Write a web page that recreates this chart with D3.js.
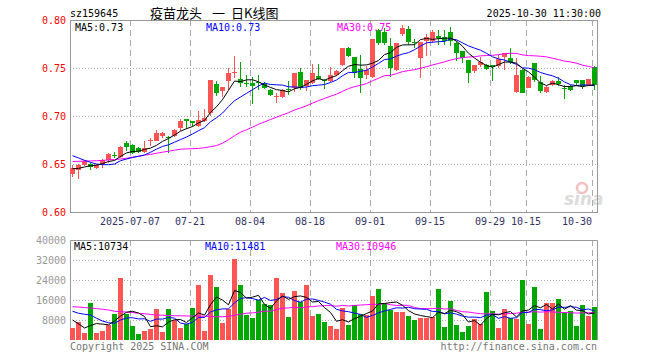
<!DOCTYPE html>
<html>
<head>
<meta charset="utf-8">
<script src="https://cdn.jsdelivr.net/npm/d3@7/dist/d3.min.js"></script>
<style>
  body { margin: 0; background: #fff; }
  text { font-family: "DejaVu Sans Mono", monospace; font-size: 10px; }
</style>
</head>
<body>
<div id="chart"></div>
<script>
// trading days shown on the chart
const dates = [
  "2025-06-23","2025-06-24","2025-06-25","2025-06-26","2025-06-27","2025-06-30",
  "2025-07-01","2025-07-02","2025-07-03","2025-07-04","2025-07-07","2025-07-08","2025-07-09","2025-07-10","2025-07-11",
  "2025-07-14","2025-07-15","2025-07-16","2025-07-17","2025-07-18","2025-07-21","2025-07-22","2025-07-23","2025-07-24",
  "2025-07-25","2025-07-28","2025-07-29","2025-07-30","2025-07-31",
  "2025-08-01","2025-08-04","2025-08-05","2025-08-06","2025-08-07","2025-08-08","2025-08-11","2025-08-12","2025-08-13",
  "2025-08-14","2025-08-15","2025-08-18","2025-08-19","2025-08-20","2025-08-21","2025-08-22","2025-08-25","2025-08-26",
  "2025-08-27","2025-08-28","2025-08-29",
  "2025-09-01","2025-09-02","2025-09-03","2025-09-04","2025-09-05","2025-09-08","2025-09-09","2025-09-10","2025-09-11",
  "2025-09-12","2025-09-15","2025-09-16","2025-09-17","2025-09-18","2025-09-19","2025-09-22","2025-09-23","2025-09-24",
  "2025-09-25","2025-09-26","2025-09-29","2025-09-30",
  "2025-10-09","2025-10-10","2025-10-13","2025-10-14","2025-10-15","2025-10-16","2025-10-17","2025-10-20","2025-10-21",
  "2025-10-22","2025-10-23","2025-10-24","2025-10-27","2025-10-28","2025-10-29","2025-10-30"
];

const opens = [
  0.640,0.644,0.649,0.650,0.646,0.650,0.654,0.659,0.657,0.672,
  0.670,0.667,0.662,0.674,0.674,0.679,0.678,0.679,0.688,0.697,
  0.695,0.690,0.695,0.703,0.733,0.726,0.736,0.745,0.739,0.734,
  0.734,0.735,0.734,0.727,0.720,0.720,0.728,0.729,0.746,0.731,
  0.734,0.742,0.737,0.736,0.743,0.753,0.771,0.761,0.749,0.743,
  0.741,0.790,0.787,0.773,0.748,0.785,0.791,0.777,0.760,0.778,
  0.778,0.783,0.782,0.788,0.776,0.768,0.758,0.747,0.753,0.753,
  0.753,0.752,0.761,0.760,0.725,0.748,0.729,0.755,0.735,0.725,
  0.732,0.736,0.729,0.731,0.737,0.737,0.732,0.751
];
const highs = [
  0.649,0.650,0.654,0.651,0.650,0.655,0.661,0.662,0.669,0.674,
  0.671,0.668,0.674,0.677,0.685,0.683,0.679,0.686,0.697,0.697,
  0.695,0.705,0.707,0.737,0.736,0.730,0.750,0.762,0.756,0.743,
  0.741,0.743,0.735,0.728,0.724,0.728,0.736,0.745,0.750,0.738,
  0.754,0.754,0.739,0.751,0.748,0.771,0.772,0.761,0.764,0.752,
  0.780,0.791,0.792,0.781,0.776,0.795,0.794,0.780,0.777,0.785,
  0.790,0.790,0.790,0.793,0.778,0.768,0.758,0.753,0.761,0.754,
  0.753,0.764,0.766,0.771,0.760,0.749,0.742,0.755,0.742,0.731,
  0.737,0.741,0.732,0.732,0.738,0.737,0.739,0.752
];
const lows = [
  0.636,0.634,0.648,0.644,0.645,0.646,0.651,0.656,0.656,0.664,
  0.660,0.661,0.661,0.669,0.674,0.677,0.661,0.678,0.684,0.686,
  0.689,0.689,0.694,0.700,0.721,0.720,0.727,0.740,0.730,0.730,
  0.712,0.727,0.728,0.721,0.714,0.719,0.722,0.725,0.727,0.726,
  0.733,0.737,0.728,0.735,0.742,0.752,0.761,0.740,0.724,0.739,
  0.740,0.774,0.774,0.741,0.747,0.783,0.774,0.771,0.740,0.762,
  0.776,0.774,0.774,0.773,0.757,0.755,0.734,0.745,0.751,0.748,
  0.736,0.750,0.748,0.754,0.724,0.724,0.729,0.735,0.724,0.724,
  0.731,0.731,0.718,0.726,0.732,0.728,0.731,0.727
];
const closes = [
  0.646,0.649,0.653,0.647,0.649,0.654,0.660,0.658,0.668,0.668,
  0.661,0.662,0.667,0.675,0.682,0.682,0.677,0.685,0.695,0.695,
  0.693,0.696,0.698,0.737,0.724,0.730,0.745,0.746,0.734,0.733,
  0.731,0.734,0.729,0.722,0.721,0.727,0.727,0.745,0.729,0.737,
  0.745,0.739,0.736,0.743,0.747,0.771,0.762,0.745,0.740,0.748,
  0.780,0.776,0.776,0.750,0.776,0.792,0.777,0.776,0.777,0.782,
  0.787,0.781,0.778,0.778,0.766,0.760,0.745,0.753,0.756,0.749,
  0.751,0.759,0.766,0.756,0.743,0.724,0.741,0.738,0.726,0.730,
  0.736,0.733,0.728,0.727,0.734,0.731,0.739,0.732
];
const volumes = [
  4900,7300,2900,14900,2900,3700,6000,10400,24900,10400,
  5700,2500,3600,4400,12400,3300,12400,8000,4900,6300,
  12900,22000,3700,26000,21300,6900,12400,32400,22000,10000,
  8900,16000,14300,14000,24900,18900,9300,19700,15300,22000,
  9700,10400,7300,5700,4400,12700,6000,14000,10300,10000,
  17700,20400,14700,12000,11100,11300,9700,8000,8900,8900,
  9300,20400,5300,15600,6000,3300,5700,8400,6300,19300,
  11600,4900,12400,8700,8400,24000,6400,21300,4400,14900,
  14900,16400,11100,11600,5700,14000,9700,13200
];

// moving averages on the first days, where the history behind them is off the chart
const ma5Lead = [0.6451,0.6454,0.6469,0.6482];
const ma10Lead = [0.6587,0.6563,0.6538,0.6517,0.6500,0.6493,0.6493,0.6500,0.6534];
const ma30Lead = [
  0.6526,0.6528,0.6530,0.6532,0.6534,0.6538,0.6542,0.6547,0.6552,0.6560,
  0.6571,0.6581,0.6592,0.6600,0.6612,0.6623,0.6633,0.6644,0.6654,0.6657,
  0.6659,0.6662,0.6670,0.6680,0.6691,0.6717,0.6753,0.6795,0.6831
];
const volMa5Lead = [8000,6500,4800,5800];
const volMa10Lead = [11500,10700,10300,10000,8700,7600,6900,6700,8000];
const volMa30Lead = [
  13300,13200,13000,12800,12600,12300,12000,11500,11300,11200,
  11000,10700,10500,10200,10000,9900,9800,9700,9700,9600,
  9600,9600,9500,9400,9300,9300,9500,9900,10300
];

const priceTicks = [0.80, 0.75, 0.70, 0.65, 0.60];
const volTicks = [40000, 32000, 24000, 16000, 8000];
const dateTicks = ["2025-07-07","2025-07-21","2025-08-04","2025-08-18","2025-09-01","2025-09-15","2025-09-29","2025-10-15","2025-10-30"];
const dateTickLabels = ["2025-07-07","07-21","08-04","08-18","09-01","09-15","09-29","10-15","10-30"];
const priceLegend = ["MA5:0.73", "MA10:0.73", "MA30:0.75"];
const volLegend = ["MA5:10734", "MA10:11481", "MA30:10946"];
const titleParts = ["疫苗龙头", "一", "日K线图"];

const width = 660, height = 360;
const left = 70, right = 597;
const RED = "#ff5454", GREEN = "#00a800", GRID = "#aaa";
const maColors = ["#000000", "#0000ff", "#ff00ff"];

const svg = d3.select("#chart").append("svg")
    .attr("width", width)
    .attr("height", height);

const x = d3.scaleBand()
    .domain(dates)
    .range([left, left + dates.length * 6]);
const y = d3.scaleLinear().domain([0.60, 0.80]).range([212, 20]);
const yv = d3.scaleLinear().domain([0, 40000]).range([340, 240]);

function movingAvg(values, n, lead) {
    return values.map((v, i) => i < n - 1 ? lead[i] : d3.mean(values.slice(i - n + 1, i + 1)));
}
const isUp = i => closes[i] >= opens[i];

// header
svg.append("text").attr("x", 70).attr("y", 17).attr("fill", "#000").text("sz159645");
const titleX = [150, 212, 231];
titleParts.forEach((t, k) => {
    svg.append("text").attr("x", titleX[k]).attr("y", 18)
        .style("font-family", "'Noto Sans CJK SC', sans-serif").style("font-size", "13px")
        .attr("fill", "#000").text(t);
});
svg.append("text").attr("x", 601).attr("y", 17).attr("text-anchor", "end")
    .attr("fill", "#000").text("2025-10-30 11:30:00");

// grid lines
svg.append("g").selectAll("line")
    .data([0.75, 0.70, 0.65]).enter().append("line")
    .attr("x1", left).attr("x2", right)
    .attr("y1", d => Math.round(y(d)) + 0.5).attr("y2", d => Math.round(y(d)) + 0.5)
    .attr("stroke", GRID).attr("stroke-dasharray", "1,2");
svg.append("g").selectAll("line")
    .data([32000, 24000, 16000, 8000]).enter().append("line")
    .attr("x1", left).attr("x2", right)
    .attr("y1", d => Math.round(yv(d)) + 0.5).attr("y2", d => Math.round(yv(d)) + 0.5)
    .attr("stroke", GRID).attr("stroke-dasharray", "1,2");
const vgrid = svg.append("g");
dateTicks.forEach(d => {
    const xx = x(d) + 0.5;
    vgrid.append("line").attr("x1", xx).attr("x2", xx).attr("y1", 20).attr("y2", 212)
        .attr("stroke", GRID).attr("stroke-dasharray", "6,4");
    vgrid.append("line").attr("x1", xx).attr("x2", xx).attr("y1", 240).attr("y2", 340)
        .attr("stroke", GRID).attr("stroke-dasharray", "6,4");
});

// watermark
const wm = svg.append("g").attr("opacity", 0.5);
wm.append("circle").attr("cx", 582).attr("cy", 188).attr("r", 5)
    .attr("fill", "none").attr("stroke", "#f08080").attr("stroke-width", 2.5);
wm.append("text").attr("x", 564).attr("y", 205)
    .style("font-family", "'DejaVu Sans', sans-serif").style("font-size", "17px")
    .style("font-style", "italic").style("font-weight", "bold")
    .attr("fill", "#bbb").text("sina");

// frames
svg.append("rect").attr("x", left + 0.5).attr("y", 20.5).attr("width", right - left).attr("height", 192)
    .attr("fill", "none").attr("stroke", "#999");
svg.append("path").attr("d", `M${left + 0.5},340V240.5H${right + 0.5}V340`)
    .attr("fill", "none").attr("stroke", "#999");

// axis labels
svg.append("g").selectAll("text").data(priceTicks).enter().append("text")
    .attr("x", 66).attr("y", d => y(d) + 4).attr("text-anchor", "end")
    .attr("fill", "#ff0000").text(d => d.toFixed(2));
svg.append("g").selectAll("text").data(volTicks).enter().append("text")
    .attr("x", 66).attr("y", d => yv(d) + 4).attr("text-anchor", "end")
    .attr("fill", "#999").text(d => d);
svg.append("g").selectAll("text").data(dateTicks).enter().append("text")
    .attr("x", d => x(d)).attr("y", 225)
    .attr("text-anchor", (d, i) => i == dateTicks.length - 1 ? "end" : "middle")
    .attr("fill", "#336").text((d, i) => dateTickLabels[i]);

// candles
const candles = svg.append("g").attr("shape-rendering", "crispEdges");
dates.forEach((d, i) => {
    const c = isUp(i) ? RED : GREEN;
    const cx = x(d) + 2.5;
    candles.append("line").attr("x1", cx).attr("x2", cx)
        .attr("y1", y(highs[i])).attr("y2", y(lows[i])).attr("stroke", c);
    const top = y(Math.max(opens[i], closes[i])), bot = y(Math.min(opens[i], closes[i]));
    candles.append("rect").attr("x", x(d)).attr("y", top)
        .attr("width", 5).attr("height", Math.max(1, bot - top)).attr("fill", c);
});

// volume bars
svg.append("g").attr("shape-rendering", "crispEdges")
    .selectAll("rect").data(volumes).enter().append("rect")
    .attr("x", (v, i) => x(dates[i])).attr("width", 5)
    .attr("y", v => yv(v)).attr("height", v => 340 - yv(v))
    .attr("fill", (v, i) => isUp(i) ? RED : GREEN);

// moving average lines
const priceMa = [movingAvg(closes, 5, ma5Lead), movingAvg(closes, 10, ma10Lead), movingAvg(closes, 30, ma30Lead)];
const volMa = [movingAvg(volumes, 5, volMa5Lead), movingAvg(volumes, 10, volMa10Lead), movingAvg(volumes, 30, volMa30Lead)];
const lineP = d3.line().x((v, i) => x(dates[i]) + 2.5).y(v => y(v));
const lineV = d3.line().x((v, i) => x(dates[i]) + 2.5).y(v => yv(v));
[2, 1, 0].forEach(k => {
    svg.append("path").datum(priceMa[k]).attr("d", lineP)
        .attr("fill", "none").attr("stroke", maColors[k]).attr("stroke-width", 1);
    svg.append("path").datum(volMa[k]).attr("d", lineV)
        .attr("fill", "none").attr("stroke", maColors[k]).attr("stroke-width", 1);
});

// legends
const legendX = [75, 206, 337];
priceLegend.forEach((t, k) => {
    svg.append("text").attr("x", legendX[k]).attr("y", 31).attr("fill", maColors[k]).text(t);
});
volLegend.forEach((t, k) => {
    svg.append("text").attr("x", legendX[k] - 1).attr("y", 250).attr("fill", maColors[k]).text(t);
});

// footer
svg.append("text").attr("x", 70).attr("y", 350).attr("fill", "#777").text("Copyright 2025 SINA.COM");
svg.append("text").attr("x", 597).attr("y", 350).attr("text-anchor", "end")
    .attr("fill", "#777").text("http://finance.sina.com.cn");
</script>
</body>
</html>
